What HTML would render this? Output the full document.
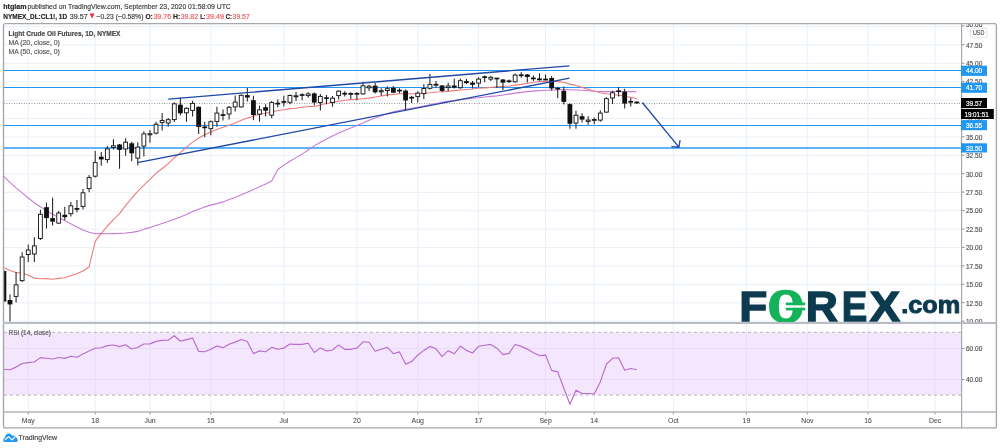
<!DOCTYPE html><html><head><meta charset="utf-8"><title>CL1! chart</title><style>
html,body{margin:0;padding:0;background:#fff;width:1000px;height:448px;overflow:hidden}
svg{display:block;will-change:transform}
text{font-family:'Liberation Sans', Arial, sans-serif}
</style></head><body>
<svg width="1000" height="448" viewBox="0 0 1000 448">
<defs><clipPath id="mainclip"><rect x="4" y="24" width="957.5" height="298"/></clipPath><clipPath id="axclip"><rect x="962" y="24.3" width="34" height="297.7"/></clipPath></defs>
<rect width="1000" height="448" fill="#fff"/>
<text x="3.3" y="8.7" font-size="8.1" fill="#222" font-weight="bold" textLength="23.2" lengthAdjust="spacingAndGlyphs" stroke="#222" stroke-width="0.18">htglam</text>
<text x="27.4" y="8.7" font-size="8.1" fill="#3c3c3c" textLength="203.4" lengthAdjust="spacingAndGlyphs" stroke="#3c3c3c" stroke-width="0.18">published on TradingView.com, September 23, 2020 01:58:09 UTC</text>
<text x="3.3" y="18.5" font-size="8.1" fill="#222" font-weight="bold" textLength="63.8" lengthAdjust="spacingAndGlyphs" stroke="#222" stroke-width="0.18">NYMEX_DL:CL1!, 1D</text>
<text x="69.8" y="18.5" font-size="8.1" fill="#3c3c3c" textLength="17.9" lengthAdjust="spacingAndGlyphs" stroke="#3c3c3c" stroke-width="0.18">39.57</text>
<path d="M89.5 13.5 L94.7 13.5 L92.1 18.8 Z" fill="#f0373d"/>
<text x="96.6" y="18.5" font-size="8.1" fill="#3c3c3c" textLength="46.8" lengthAdjust="spacingAndGlyphs" stroke="#3c3c3c" stroke-width="0.18">−0.23 (−0.58%)</text>
<text x="145.4" y="18.5" font-size="8.1" fill="#222" font-weight="bold" textLength="7.4" lengthAdjust="spacingAndGlyphs" stroke="#222" stroke-width="0.18">O:</text>
<text x="153.4" y="18.5" font-size="8.1" fill="#f0555b" textLength="17.8" lengthAdjust="spacingAndGlyphs" stroke="#f0555b" stroke-width="0.18">39.76</text>
<text x="172.9" y="18.5" font-size="8.1" fill="#222" font-weight="bold" textLength="7.3" lengthAdjust="spacingAndGlyphs" stroke="#222" stroke-width="0.18">H:</text>
<text x="180.8" y="18.5" font-size="8.1" fill="#f0555b" textLength="17.2" lengthAdjust="spacingAndGlyphs" stroke="#f0555b" stroke-width="0.18">39.82</text>
<text x="200.2" y="18.5" font-size="8.1" fill="#222" font-weight="bold" textLength="5.3" lengthAdjust="spacingAndGlyphs" stroke="#222" stroke-width="0.18">L:</text>
<text x="206.1" y="18.5" font-size="8.1" fill="#f0555b" textLength="17.9" lengthAdjust="spacingAndGlyphs" stroke="#f0555b" stroke-width="0.18">39.49</text>
<text x="225.8" y="18.5" font-size="8.1" fill="#222" font-weight="bold" textLength="6.2" lengthAdjust="spacingAndGlyphs" stroke="#222" stroke-width="0.18">C:</text>
<text x="232.6" y="18.5" font-size="8.1" fill="#f0555b" textLength="17.1" lengthAdjust="spacingAndGlyphs" stroke="#f0555b" stroke-width="0.18">39.57</text>
<path d="M28.24 24V322M28.24 324V412M95.19 24V322M95.19 324V412M149.96 24V322M149.96 324V412M210.82 24V322M210.82 324V412M283.86 24V322M283.86 324V412M356.89 24V322M356.89 324V412M417.75 24V322M417.75 324V412M478.61 24V322M478.61 324V412M545.55 24V322M545.55 324V412M594.24 24V322M594.24 324V412M673.36 24V322M673.36 324V412M746.39 24V322M746.39 324V412M807.25 24V322M807.25 324V412M868.11 24V322M868.11 324V412M935.06 24V322M935.06 324V412M4 26.47H961M4 44.9H961M4 63.33H961M4 81.76H961M4 100.18H961M4 118.61H961M4 137.04H961M4 155.47H961M4 173.89H961M4 192.32H961M4 210.75H961M4 229.18H961M4 247.6H961M4 266.03H961M4 284.46H961M4 302.89H961M4 321.31H961M4 348.5H961M4 379.5H961" stroke="#e9f0f7" stroke-width="1" fill="none"/>
<rect x="4" y="332.3" width="957.5" height="62.8" fill="#f4e6fd"/>
<path d="M28.24 332.3V395.1M95.19 332.3V395.1M149.96 332.3V395.1M210.82 332.3V395.1M283.86 332.3V395.1M356.89 332.3V395.1M417.75 332.3V395.1M478.61 332.3V395.1M545.55 332.3V395.1M594.24 332.3V395.1M673.36 332.3V395.1M746.39 332.3V395.1M807.25 332.3V395.1M868.11 332.3V395.1M935.06 332.3V395.1M4 348.5H961M4 379.5H961" stroke="#e9dcf8" stroke-width="1" fill="none"/>
<path d="M4 332.3H961" stroke="#b2b2b7" stroke-width="1" stroke-dasharray="3 3" fill="none"/>
<path d="M4 395.1H961" stroke="#b2b2b7" stroke-width="1" stroke-dasharray="3 3" fill="none"/>
<path d="M4 70.5H962" stroke="#2196f3" stroke-width="1.1" fill="none"/>
<path d="M4 87.5H962" stroke="#2196f3" stroke-width="1.1" fill="none"/>
<path d="M4 125.5H962" stroke="#2196f3" stroke-width="1.1" fill="none"/>
<path d="M4 148H962" stroke="#2a9af3" stroke-width="1.3" fill="none"/>
<path d="M4 103.5H961" stroke="#9a9a9a" stroke-width="1" stroke-dasharray="1 1.5" fill="none"/>
<polyline points="3.5,176.1 10.0,182.4 16.1,187.9 22.2,192.9 28.2,198.0 34.3,202.8 40.4,206.8 46.5,210.6 52.6,214.3 58.7,217.6 64.8,220.7 70.8,223.8 76.9,227.0 83.0,229.9 89.1,232.3 95.2,233.7 101.3,233.6 107.4,233.7 113.4,233.6 119.5,233.4 125.6,233.0 131.7,232.4 137.8,231.4 143.9,229.2 150.0,227.6 156.1,225.5 162.1,223.5 168.2,221.5 174.3,219.3 180.4,217.0 186.5,214.4 192.6,211.5 198.7,209.2 204.7,206.9 210.8,205.1 216.9,203.6 223.0,201.9 229.1,199.6 235.2,197.5 241.3,194.8 247.3,192.2 253.4,189.5 259.5,186.8 265.6,184.0 271.7,180.9 277.8,169.5 283.9,165.1 289.9,161.2 296.0,157.6 302.1,154.1 308.2,150.0 314.3,145.9 320.4,142.2 326.5,139.0 332.5,136.0 338.6,132.9 344.7,130.5 350.8,128.0 356.9,125.5 363.0,122.9 369.1,120.3 375.1,118.0 381.2,115.7 387.3,113.6 393.4,111.9 399.5,110.5 405.6,109.3 411.7,108.3 417.7,107.2 423.8,106.0 429.9,104.8 436.0,103.5 442.1,102.4 448.2,101.4 454.3,100.5 460.4,99.6 466.4,98.9 472.5,98.2 478.6,97.7 484.7,97.0 490.8,96.4 496.9,95.9 503.0,95.0 509.0,94.1 515.1,93.1 521.2,92.4 527.3,91.6 533.4,91.1 539.5,90.6 545.6,90.3 551.6,90.2 557.7,89.7 563.8,89.5 569.9,89.8 576.0,90.0 582.1,90.3 588.2,90.7 594.2,91.2 600.3,91.5 606.4,91.6 612.5,91.6 618.6,91.3 624.7,91.5 630.8,91.6 636.8,91.7" fill="none" stroke="#c97ad8" stroke-width="1.1" stroke-linejoin="round"/>
<polyline points="3.5,267.4 10.0,270.5 16.1,272.5 22.2,273.1 28.2,275.2 34.3,278.1 40.4,278.7 46.5,278.6 52.6,279.2 58.7,278.4 64.8,277.8 70.8,275.7 76.9,273.8 83.0,271.0 89.1,266.8 95.2,241.3 101.3,233.3 107.4,226.0 113.4,219.6 119.5,213.7 125.6,205.7 131.7,198.2 137.8,191.3 143.9,185.1 150.0,179.3 156.1,173.2 162.1,168.5 168.2,163.6 174.3,157.7 180.4,152.7 186.5,147.2 192.6,142.1 198.7,138.0 204.7,134.8 210.8,132.0 216.9,129.5 223.0,127.3 229.1,125.2 235.2,123.0 241.3,120.3 247.3,118.1 253.4,116.2 259.5,114.3 265.6,113.2 271.7,111.6 277.8,110.7 283.9,109.8 289.9,108.6 296.0,108.2 302.1,107.3 308.2,106.5 314.3,106.5 320.4,105.0 326.5,103.5 332.5,102.4 338.6,101.3 344.7,100.2 350.8,99.6 356.9,99.2 363.0,98.7 369.1,98.1 375.1,97.0 381.2,96.0 387.3,94.9 393.4,94.4 399.5,93.7 405.6,93.7 411.7,93.8 417.7,93.7 423.8,93.3 429.9,92.8 436.0,92.0 442.1,91.7 448.2,91.1 454.3,90.6 460.4,90.0 466.4,89.5 472.5,89.0 478.6,88.2 484.7,87.9 490.8,87.4 496.9,86.7 503.0,86.4 509.0,86.0 515.1,85.1 521.2,84.4 527.3,83.2 533.4,82.2 539.5,81.6 545.6,81.2 551.6,81.4 557.7,81.6 563.8,82.2 569.9,84.1 576.0,85.4 582.1,87.4 588.2,89.2 594.2,91.0 600.3,92.7 606.4,93.7 612.5,94.5 618.6,95.2 624.7,96.2 630.8,97.2 636.8,98.7" fill="none" stroke="#ef7b7b" stroke-width="1.1" stroke-linejoin="round"/>
<g clip-path="url(#mainclip)" fill="#111">
<path d="M3.90 270.5V302.0M9.99 294.5V321.4M16.07 272.0V302.5M22.16 252.2V281.9M28.24 244.6V262.0M34.33 237.2V262.0M40.42 209.8V240.0M46.50 202.8V228.6M52.59 197.8V225.5M58.67 211.0V224.0M64.76 206.8V220.3M70.85 202.1V216.6M76.93 200.0V212.3M83.02 189.0V209.5M89.10 174.9V192.3M95.19 151.1V177.6M101.28 152.1V165.8M107.36 146.0V162.9M113.45 139.2V149.6M119.53 144.0V168.7M125.62 138.3V155.8M131.71 141.7V161.3M137.79 142.3V165.6M143.88 131.2V156.4M149.96 129.9V142.8M156.05 121.7V134.4M162.14 113.1V130.5M168.22 118.0V126.8M174.31 102.3V122.1M180.39 97.4V115.2M186.48 107.2V121.7M192.57 100.8V116.4M198.65 106.5V134.1M204.74 121.8V137.2M210.82 120.6V135.3M216.91 106.8V126.7M223.00 109.5V120.6M229.08 105.9V119.4M235.17 95.4V111.4M241.25 94.6V107.6M247.34 88.1V101.6M253.43 95.7V120.2M259.51 105.8V121.7M265.60 104.3V116.6M271.68 100.9V118.3M277.77 99.6V107.6M283.86 95.7V106.4M289.94 94.5V104.3M296.03 92.0V101.1M302.11 93.5V100.2M308.20 92.2V97.7M314.29 92.4V105.4M320.37 94.0V110.6M326.46 94.9V104.2M332.54 96.1V106.7M338.63 90.3V99.5M344.72 91.2V96.5M350.80 92.2V98.9M356.89 92.2V100.2M362.97 81.7V94.5M369.06 84.7V91.1M375.15 82.9V93.6M381.23 88.2V95.8M387.32 86.2V96.4M393.40 86.0V93.0M399.49 88.2V93.3M405.58 89.6V109.9M411.66 95.8V102.9M417.75 91.2V102.6M423.83 84.3V99.0M429.92 74.1V89.4M436.01 80.9V87.6M442.09 85.0V92.1M448.18 82.7V91.3M454.26 78.4V88.5M460.35 78.4V88.8M466.44 79.0V83.9M472.52 81.0V88.6M478.61 77.3V87.1M484.69 75.6V82.2M490.78 75.9V81.0M496.87 78.0V88.1M502.95 79.0V90.0M509.04 79.5V83.0M515.12 73.4V82.5M521.21 72.2V77.7M527.30 74.0V82.5M533.38 75.6V81.1M539.47 73.3V80.5M545.55 74.4V80.3M551.64 75.9V90.5M557.73 86.9V98.3M563.81 86.6V104.5M569.90 103.5V128.8M575.98 110.8V128.8M582.07 113.2V122.4M588.16 116.2V124.8M594.24 117.5V124.2M600.33 110.5V121.8M606.41 97.2V112.8M612.50 90.8V104.0M618.59 87.1V96.6M624.67 88.8V108.5M630.76 97.8V106.4M636.84 101.3V103.8" stroke="#222" stroke-width="1.05" fill="none"/>
<rect x="1.50" y="271.0" width="4.8" height="30.5"/><rect x="7.59" y="300.0" width="4.8" height="4.4"/><rect x="14.15" y="284.9" width="3.8499999999999996" height="11.5" fill="#fff" stroke="#1a1a1a" stroke-width="0.95"/><rect x="20.23" y="257.0" width="3.8499999999999996" height="23.6" fill="#fff" stroke="#1a1a1a" stroke-width="0.95"/><rect x="26.32" y="250.0" width="3.8499999999999996" height="4.5" fill="#fff" stroke="#1a1a1a" stroke-width="0.95"/><rect x="32.41" y="245.9" width="3.8499999999999996" height="8.1" fill="#fff" stroke="#1a1a1a" stroke-width="0.95"/><rect x="38.49" y="214.3" width="3.8499999999999996" height="24.2" fill="#fff" stroke="#1a1a1a" stroke-width="0.95"/><rect x="44.10" y="207.2" width="4.8" height="10.9"/><rect x="50.19" y="218.1" width="4.8" height="3.5"/><rect x="56.75" y="213.0" width="3.8499999999999996" height="10.1" fill="#fff" stroke="#1a1a1a" stroke-width="0.95"/><rect x="62.36" y="214.8" width="4.8" height="2.4"/><rect x="68.92" y="205.8" width="3.8499999999999996" height="7.9" fill="#fff" stroke="#1a1a1a" stroke-width="0.95"/><rect x="74.53" y="208.05" width="4.8" height="1.7"/><rect x="81.09" y="192.8" width="3.8499999999999996" height="13.6" fill="#fff" stroke="#1a1a1a" stroke-width="0.95"/><rect x="87.18" y="177.6" width="3.8499999999999996" height="11.0" fill="#fff" stroke="#1a1a1a" stroke-width="0.95"/><rect x="93.27" y="162.6" width="3.8499999999999996" height="13.6" fill="#fff" stroke="#1a1a1a" stroke-width="0.95"/><rect x="98.88" y="156.7" width="4.8" height="2.7"/><rect x="105.44" y="148.9" width="3.8499999999999996" height="10.7" fill="#fff" stroke="#1a1a1a" stroke-width="0.95"/><rect x="111.52" y="145.8" width="3.8499999999999996" height="1.6" fill="#fff" stroke="#1a1a1a" stroke-width="0.95"/><rect x="117.13" y="144.5" width="4.8" height="5.4"/><rect x="123.69" y="142.2" width="3.8499999999999996" height="6.8" fill="#fff" stroke="#1a1a1a" stroke-width="0.95"/><rect x="129.31" y="143.3" width="4.8" height="10.0"/><rect x="135.87" y="147.1" width="3.8499999999999996" height="11.0" fill="#fff" stroke="#1a1a1a" stroke-width="0.95"/><rect x="141.95" y="133.9" width="3.8499999999999996" height="12.2" fill="#fff" stroke="#1a1a1a" stroke-width="0.95"/><rect x="148.04" y="133.7" width="3.8499999999999996" height="1.1" fill="#fff" stroke="#1a1a1a" stroke-width="0.95"/><rect x="154.12" y="124.2" width="3.8499999999999996" height="8.9" fill="#fff" stroke="#1a1a1a" stroke-width="0.95"/><rect x="160.21" y="120.5" width="3.8499999999999996" height="2.1" fill="#fff" stroke="#1a1a1a" stroke-width="0.95"/><rect x="166.30" y="119.7" width="3.8499999999999996" height="3.3" fill="#fff" stroke="#1a1a1a" stroke-width="0.95"/><rect x="172.38" y="103.8" width="3.8499999999999996" height="15.8" fill="#fff" stroke="#1a1a1a" stroke-width="0.95"/><rect x="177.99" y="104.7" width="4.8" height="8.6"/><rect x="184.56" y="108.3" width="3.8499999999999996" height="4.5" fill="#fff" stroke="#1a1a1a" stroke-width="0.95"/><rect x="190.64" y="103.4" width="3.8499999999999996" height="7.0" fill="#fff" stroke="#1a1a1a" stroke-width="0.95"/><rect x="196.25" y="106.8" width="4.8" height="20.2"/><rect x="202.34" y="126.50" width="4.8" height="1.7"/><rect x="208.90" y="121.7" width="3.8499999999999996" height="7.0" fill="#fff" stroke="#1a1a1a" stroke-width="0.95"/><rect x="214.99" y="113.1" width="3.8499999999999996" height="8.3" fill="#fff" stroke="#1a1a1a" stroke-width="0.95"/><rect x="220.60" y="114.20" width="4.8" height="1.7"/><rect x="227.16" y="107.3" width="3.8499999999999996" height="6.7" fill="#fff" stroke="#1a1a1a" stroke-width="0.95"/><rect x="233.24" y="102.1" width="3.8499999999999996" height="4.8" fill="#fff" stroke="#1a1a1a" stroke-width="0.95"/><rect x="239.33" y="95.3" width="3.8499999999999996" height="11.6" fill="#fff" stroke="#1a1a1a" stroke-width="0.95"/><rect x="244.94" y="95.1" width="4.8" height="2.4"/><rect x="251.03" y="100.2" width="4.8" height="14.8"/><rect x="257.59" y="109.9" width="3.8499999999999996" height="4.2" fill="#fff" stroke="#1a1a1a" stroke-width="0.95"/><rect x="263.20" y="107.2" width="4.8" height="3.5"/><rect x="269.76" y="102.6" width="3.8499999999999996" height="12.6" fill="#fff" stroke="#1a1a1a" stroke-width="0.95"/><rect x="275.37" y="102.7" width="4.8" height="1.8"/><rect x="281.46" y="101.05" width="4.8" height="1.7"/><rect x="288.02" y="95.5" width="3.8499999999999996" height="6.8" fill="#fff" stroke="#1a1a1a" stroke-width="0.95"/><rect x="294.10" y="95.8" width="3.8499999999999996" height="1.0" fill="#fff" stroke="#1a1a1a" stroke-width="0.95"/><rect x="299.71" y="94.15" width="4.8" height="1.7"/><rect x="306.28" y="93.9" width="3.8499999999999996" height="1.7" fill="#fff" stroke="#1a1a1a" stroke-width="0.95"/><rect x="311.89" y="93.4" width="4.8" height="9.2"/><rect x="318.45" y="96.4" width="3.8499999999999996" height="6.1" fill="#fff" stroke="#1a1a1a" stroke-width="0.95"/><rect x="324.06" y="97.3" width="4.8" height="1.6"/><rect x="330.62" y="98.2" width="3.8499999999999996" height="4.3" fill="#fff" stroke="#1a1a1a" stroke-width="0.95"/><rect x="336.71" y="91.2" width="3.8499999999999996" height="4.4" fill="#fff" stroke="#1a1a1a" stroke-width="0.95"/><rect x="342.32" y="92.8" width="4.8" height="1.8"/><rect x="348.40" y="93.05" width="4.8" height="1.7"/><rect x="354.49" y="92.95" width="4.8" height="1.7"/><rect x="361.05" y="85.8" width="3.8499999999999996" height="8.1" fill="#fff" stroke="#1a1a1a" stroke-width="0.95"/><rect x="367.14" y="86.2" width="3.8499999999999996" height="1.6" fill="#fff" stroke="#1a1a1a" stroke-width="0.95"/><rect x="372.75" y="85.7" width="4.8" height="6.6"/><rect x="379.31" y="90.7" width="3.8499999999999996" height="1.1" fill="#fff" stroke="#1a1a1a" stroke-width="0.95"/><rect x="385.39" y="88.7" width="3.8499999999999996" height="1.8" fill="#fff" stroke="#1a1a1a" stroke-width="0.95"/><rect x="391.00" y="87.8" width="4.8" height="4.9"/><rect x="397.09" y="89.75" width="4.8" height="1.7"/><rect x="403.18" y="90.6" width="4.8" height="9.8"/><rect x="409.26" y="96.85" width="4.8" height="1.7"/><rect x="415.82" y="93.1" width="3.8499999999999996" height="3.5" fill="#fff" stroke="#1a1a1a" stroke-width="0.95"/><rect x="421.91" y="88.5" width="3.8499999999999996" height="5.1" fill="#fff" stroke="#1a1a1a" stroke-width="0.95"/><rect x="428.00" y="84.4" width="3.8499999999999996" height="3.9" fill="#fff" stroke="#1a1a1a" stroke-width="0.95"/><rect x="433.61" y="83.85" width="4.8" height="1.7"/><rect x="439.69" y="85.5" width="4.8" height="5.4"/><rect x="446.25" y="86.0" width="3.8499999999999996" height="1.6" fill="#fff" stroke="#1a1a1a" stroke-width="0.95"/><rect x="451.86" y="85.5" width="4.8" height="2.1"/><rect x="458.43" y="80.7" width="3.8499999999999996" height="7.0" fill="#fff" stroke="#1a1a1a" stroke-width="0.95"/><rect x="464.04" y="81.1" width="4.8" height="2.0"/><rect x="470.12" y="82.6" width="4.8" height="2.2"/><rect x="476.68" y="79.1" width="3.8499999999999996" height="4.0" fill="#fff" stroke="#1a1a1a" stroke-width="0.95"/><rect x="482.29" y="76.25" width="4.8" height="1.7"/><rect x="488.86" y="77.3" width="3.8499999999999996" height="1.8" fill="#fff" stroke="#1a1a1a" stroke-width="0.95"/><rect x="494.47" y="77.65" width="4.8" height="1.7"/><rect x="500.55" y="79.5" width="4.8" height="3.1"/><rect x="506.64" y="80.40" width="4.8" height="1.7"/><rect x="513.20" y="75.1" width="3.8499999999999996" height="6.7" fill="#fff" stroke="#1a1a1a" stroke-width="0.95"/><rect x="518.81" y="74.40" width="4.8" height="1.7"/><rect x="524.90" y="74.5" width="4.8" height="2.5"/><rect x="530.98" y="77.55" width="4.8" height="1.7"/><rect x="537.07" y="78.4" width="4.8" height="1.9"/><rect x="543.15" y="78.70" width="4.8" height="1.7"/><rect x="549.24" y="78.0" width="4.8" height="10.4"/><rect x="555.33" y="87.8" width="4.8" height="1.6"/><rect x="561.41" y="90.9" width="4.8" height="11.0"/><rect x="567.50" y="104.1" width="4.8" height="19.7"/><rect x="574.06" y="115.2" width="3.8499999999999996" height="7.8" fill="#fff" stroke="#1a1a1a" stroke-width="0.95"/><rect x="579.67" y="116.2" width="4.8" height="3.4"/><rect x="586.23" y="120.1" width="3.8499999999999996" height="1.3" fill="#fff" stroke="#1a1a1a" stroke-width="0.95"/><rect x="591.84" y="119.10" width="4.8" height="1.7"/><rect x="598.40" y="113.1" width="3.8499999999999996" height="7.0" fill="#fff" stroke="#1a1a1a" stroke-width="0.95"/><rect x="604.49" y="98.7" width="3.8499999999999996" height="13.4" fill="#fff" stroke="#1a1a1a" stroke-width="0.95"/><rect x="610.58" y="92.8" width="3.8499999999999996" height="5.2" fill="#fff" stroke="#1a1a1a" stroke-width="0.95"/><rect x="616.19" y="90.40" width="4.8" height="1.7"/><rect x="622.27" y="91.7" width="4.8" height="11.9"/><rect x="628.36" y="100.95" width="4.8" height="1.7"/><rect x="634.44" y="101.65" width="4.8" height="1.7"/>
</g>
<path d="M137.4 162.7L569.5 78.2M168.3 99.1L569.5 65.8M642.3 102.5L678.9 147.2M671.4 146.7L678.9 147.2L680.1 140.2" stroke="#1f48a8" stroke-width="1.3" fill="none"/>
<polyline points="3.5,369.3 10.0,369.7 16.1,367.1 22.2,363.5 28.2,362.6 34.3,362.0 40.4,357.6 46.5,358.3 52.6,359.0 58.7,357.5 64.8,358.4 70.8,356.3 76.9,357.2 83.0,353.9 89.1,351.1 95.2,348.3 101.3,347.8 107.4,345.6 113.4,345.0 119.5,346.6 125.6,344.7 131.7,349.0 137.8,347.3 143.9,344.0 150.0,343.9 156.1,341.4 162.1,340.4 168.2,340.2 174.3,335.7 180.4,341.2 186.5,339.6 192.6,338.1 198.7,351.4 204.7,351.8 210.8,349.2 216.9,345.9 223.0,347.8 229.1,344.2 235.2,342.1 241.3,339.5 247.3,341.5 253.4,353.6 259.5,350.9 265.6,351.8 271.7,347.4 277.8,349.3 283.9,348.1 289.9,344.1 296.0,344.4 302.1,344.4 308.2,343.2 314.3,352.5 320.4,347.9 326.5,350.9 332.5,350.0 338.6,344.9 344.7,349.3 350.8,349.3 356.9,348.1 363.0,341.8 369.1,342.3 375.1,351.2 381.2,349.2 387.3,347.4 393.4,353.7 399.5,351.9 405.6,364.1 411.7,361.5 417.7,355.2 423.8,350.4 429.9,346.4 436.0,348.8 442.1,356.6 448.2,350.7 454.3,353.8 460.4,346.0 466.4,350.4 472.5,353.0 478.6,346.3 484.7,345.3 490.8,344.4 496.9,348.2 503.0,354.6 509.0,353.4 515.1,344.5 521.2,346.4 527.3,349.1 533.4,352.7 539.5,355.6 545.6,355.1 551.6,370.4 557.7,371.9 563.8,388.0 569.9,404.3 576.0,390.2 582.1,393.5 588.2,393.5 594.2,394.0 600.3,381.9 606.4,364.2 612.5,358.3 618.6,357.7 624.7,370.2 630.8,368.5 636.8,369.7" fill="none" stroke="#b96cce" stroke-width="1.15" stroke-linejoin="round"/>
<text x="8.5" y="35.7" font-size="7.4" fill="#484848" font-weight="bold" textLength="112" lengthAdjust="spacingAndGlyphs" stroke="#484848" stroke-width="0.18">Light Crude Oil Futures, 1D, NYMEX</text>
<text x="8.5" y="45.1" font-size="7.4" fill="#5a5a5a" textLength="51.3" lengthAdjust="spacingAndGlyphs" stroke="#5a5a5a" stroke-width="0.18">MA (20, close, 0)</text>
<text x="8.5" y="54.2" font-size="7.4" fill="#5a5a5a" textLength="51.3" lengthAdjust="spacingAndGlyphs" stroke="#5a5a5a" stroke-width="0.18">MA (50, close, 0)</text>
<text x="8.5" y="335" font-size="7.4" fill="#5a5a5a" textLength="42.4" lengthAdjust="spacingAndGlyphs" stroke="#5a5a5a" stroke-width="0.18">RSI (14, close)</text>
<text x="739.32" y="320.8" font-size="42.9" fill="#0c3a4f" font-weight="bold" textLength="28.04" lengthAdjust="spacingAndGlyphs" stroke="#0c3a4f" stroke-width="1.4">F</text>
<text x="805.7" y="320.8" font-size="42.9" fill="#0c3a4f" font-weight="bold" textLength="32.13" lengthAdjust="spacingAndGlyphs" stroke="#0c3a4f" stroke-width="1.4">R</text>
<text x="841.82" y="320.8" font-size="42.9" fill="#0c3a4f" font-weight="bold" textLength="25.51" lengthAdjust="spacingAndGlyphs" stroke="#0c3a4f" stroke-width="1.4">E</text>
<text x="869.88" y="320.8" font-size="42.9" fill="#0c3a4f" font-weight="bold" textLength="30.26" lengthAdjust="spacingAndGlyphs" stroke="#0c3a4f" stroke-width="1.4">X</text>
<text x="767.9" y="0" font-size="46.0" font-weight="bold" fill="#14b25a" stroke="#14b25a" stroke-width="2.4" textLength="35.7" lengthAdjust="spacingAndGlyphs" transform="translate(0 322.2) scale(1 1.02)" style="font-family:'Liberation Serif', serif">O</text>
<rect x="785.8" y="305.2" width="19.5" height="2.6" fill="#fff"/>
<rect x="785.8" y="302.6" width="19.5" height="2.6" fill="#14b25a"/><rect x="785.8" y="307.8" width="19.5" height="2.6" fill="#14b25a"/>
<text x="901.16" y="313.0" font-size="24.6" fill="#0c3a4f" font-weight="bold" textLength="59.06" lengthAdjust="spacingAndGlyphs" stroke="#0c3a4f" stroke-width="1.0">.com</text>
<rect x="3.5" y="23.6" width="992.9" height="404.3" rx="2" fill="none" stroke="#a5a8ae" stroke-width="1.4"/>
<path d="M961.6 23.6V427.9" stroke="#a5a8ae" stroke-width="1.2" fill="none"/>
<path d="M3.5 412H996.4" stroke="#b3b6bb" stroke-width="1.5" fill="none"/>
<rect x="3" y="322" width="993.5" height="2" fill="#b9bcc2"/>
<g clip-path="url(#axclip)" font-size="7.5" fill="#4d4d4d" stroke="#4d4d4d" stroke-width="0.15"><text x="966" y="27.40" textLength="16.3" lengthAdjust="spacingAndGlyphs">50.00</text><text x="966" y="47.55" textLength="16.3" lengthAdjust="spacingAndGlyphs">47.50</text><text x="966" y="65.98" textLength="16.3" lengthAdjust="spacingAndGlyphs">45.00</text><text x="966" y="84.41" textLength="16.3" lengthAdjust="spacingAndGlyphs">42.50</text><text x="966" y="102.83" textLength="16.3" lengthAdjust="spacingAndGlyphs">40.00</text><text x="966" y="121.26" textLength="16.3" lengthAdjust="spacingAndGlyphs">37.50</text><text x="966" y="139.69" textLength="16.3" lengthAdjust="spacingAndGlyphs">35.00</text><text x="966" y="158.12" textLength="16.3" lengthAdjust="spacingAndGlyphs">32.50</text><text x="966" y="176.54" textLength="16.3" lengthAdjust="spacingAndGlyphs">30.00</text><text x="966" y="194.97" textLength="16.3" lengthAdjust="spacingAndGlyphs">27.50</text><text x="966" y="213.40" textLength="16.3" lengthAdjust="spacingAndGlyphs">25.00</text><text x="966" y="231.83" textLength="16.3" lengthAdjust="spacingAndGlyphs">22.50</text><text x="966" y="250.25" textLength="16.3" lengthAdjust="spacingAndGlyphs">20.00</text><text x="966" y="268.68" textLength="16.3" lengthAdjust="spacingAndGlyphs">17.50</text><text x="966" y="287.11" textLength="16.3" lengthAdjust="spacingAndGlyphs">15.00</text><text x="966" y="305.54" textLength="16.3" lengthAdjust="spacingAndGlyphs">12.50</text><text x="966" y="323.96" textLength="16.3" lengthAdjust="spacingAndGlyphs">10.00</text></g>
<path d="M962 25.90H964.5M962 44.70H964.5M962 63.13H964.5M962 81.56H964.5M962 99.98H964.5M962 118.41H964.5M962 136.84H964.5M962 155.27H964.5M962 173.69H964.5M962 192.12H964.5M962 210.55H964.5M962 228.98H964.5M962 247.40H964.5M962 265.83H964.5M962 284.26H964.5M962 302.69H964.5M962 321.11H964.5" stroke="#8f9299" stroke-width="1"/>
<g font-size="7.5" fill="#4d4d4d" stroke="#4d4d4d" stroke-width="0.15">
<text x="966" y="350.75" textLength="16.3" lengthAdjust="spacingAndGlyphs">60.00</text>
<text x="966" y="382.15" textLength="16.3" lengthAdjust="spacingAndGlyphs">40.00</text>
</g>
<path d="M962 348.5H964.5M962 379.5H964.5" stroke="#8f9299" stroke-width="1"/>
<rect x="970.4" y="28.2" width="16.6" height="9.7" rx="2" fill="#fff" stroke="#e0e3eb" stroke-width="1"/>
<text x="972.9" y="34.6" font-size="7.2" fill="#555" textLength="11.5" lengthAdjust="spacingAndGlyphs" stroke="#555" stroke-width="0.18">USD</text>
<rect x="961" y="65.7" width="26" height="10.2" fill="#2196f3"/>
<text x="966" y="73.40" font-size="7.4" fill="#fff" stroke="#fff" stroke-width="0.2" textLength="16.2" lengthAdjust="spacingAndGlyphs">44.00</text>
<rect x="961" y="82.6" width="26" height="10.2" fill="#2196f3"/>
<text x="966" y="90.30" font-size="7.4" fill="#fff" stroke="#fff" stroke-width="0.2" textLength="16.2" lengthAdjust="spacingAndGlyphs">41.70</text>
<rect x="961" y="98.0" width="26" height="10.1" fill="#000"/>
<text x="966" y="105.65" font-size="7.4" fill="#fff" stroke="#fff" stroke-width="0.2" textLength="16.2" lengthAdjust="spacingAndGlyphs">39.57</text>
<rect x="961" y="109.0" width="32.8" height="10" fill="#000"/>
<text x="964.4" y="116.60" font-size="7.4" fill="#fff" stroke="#fff" stroke-width="0.2" textLength="24.4" lengthAdjust="spacingAndGlyphs">19:01:51</text>
<rect x="961" y="120.1" width="26" height="10.1" fill="#2196f3"/>
<text x="966" y="127.75" font-size="7.4" fill="#fff" stroke="#fff" stroke-width="0.2" textLength="16.2" lengthAdjust="spacingAndGlyphs">36.55</text>
<rect x="961" y="143.3" width="26" height="9.2" fill="#2196f3"/>
<text x="966" y="150.50" font-size="7.4" fill="#fff" stroke="#fff" stroke-width="0.2" textLength="16.2" lengthAdjust="spacingAndGlyphs">33.50</text>
<g font-size="6.9" fill="#505050" stroke="#505050" stroke-width="0.08" text-anchor="middle">
<text x="28.2" y="422.8">May</text>
<text x="95.2" y="422.8">18</text>
<text x="150.0" y="422.8">Jun</text>
<text x="210.8" y="422.8">15</text>
<text x="283.9" y="422.8">Jul</text>
<text x="356.9" y="422.8">20</text>
<text x="417.7" y="422.8">Aug</text>
<text x="478.6" y="422.8">17</text>
<text x="545.6" y="422.8">Sep</text>
<text x="594.2" y="422.8">14</text>
<text x="673.4" y="422.8">Oct</text>
<text x="746.4" y="422.8">19</text>
<text x="807.3" y="422.8">Nov</text>
<text x="868.1" y="422.8">16</text>
<text x="935.1" y="422.8">Dec</text>
</g>
<path d="M28.24 412.5V414.5M95.19 412.5V414.5M149.96 412.5V414.5M210.82 412.5V414.5M283.86 412.5V414.5M356.89 412.5V414.5M417.75 412.5V414.5M478.61 412.5V414.5M545.55 412.5V414.5M594.24 412.5V414.5M673.36 412.5V414.5M746.39 412.5V414.5M807.25 412.5V414.5M868.11 412.5V414.5M935.06 412.5V414.5" stroke="#8f9299" stroke-width="1"/>
<path d="M4.5 442 C3 442 2.8 438.5 5 437.5 C5.5 434.5 8 432.8 10.5 434 C11.5 434.5 12 435.5 12.5 436 C14 435 16.5 436 16.5 438 C18.2 438.5 18.2 442 16.5 442 Z" fill="#2196f3"/>
<path d="M4.9 439.7 L8.7 436.7 L12 440 L15.4 436.5" stroke="#fff" stroke-width="1.1" fill="none"/>
<text x="18.6" y="440.4" font-size="7.4" fill="#474747" textLength="38.5" lengthAdjust="spacingAndGlyphs" stroke="#474747" stroke-width="0.18">TradingView</text>
</svg></body></html>
